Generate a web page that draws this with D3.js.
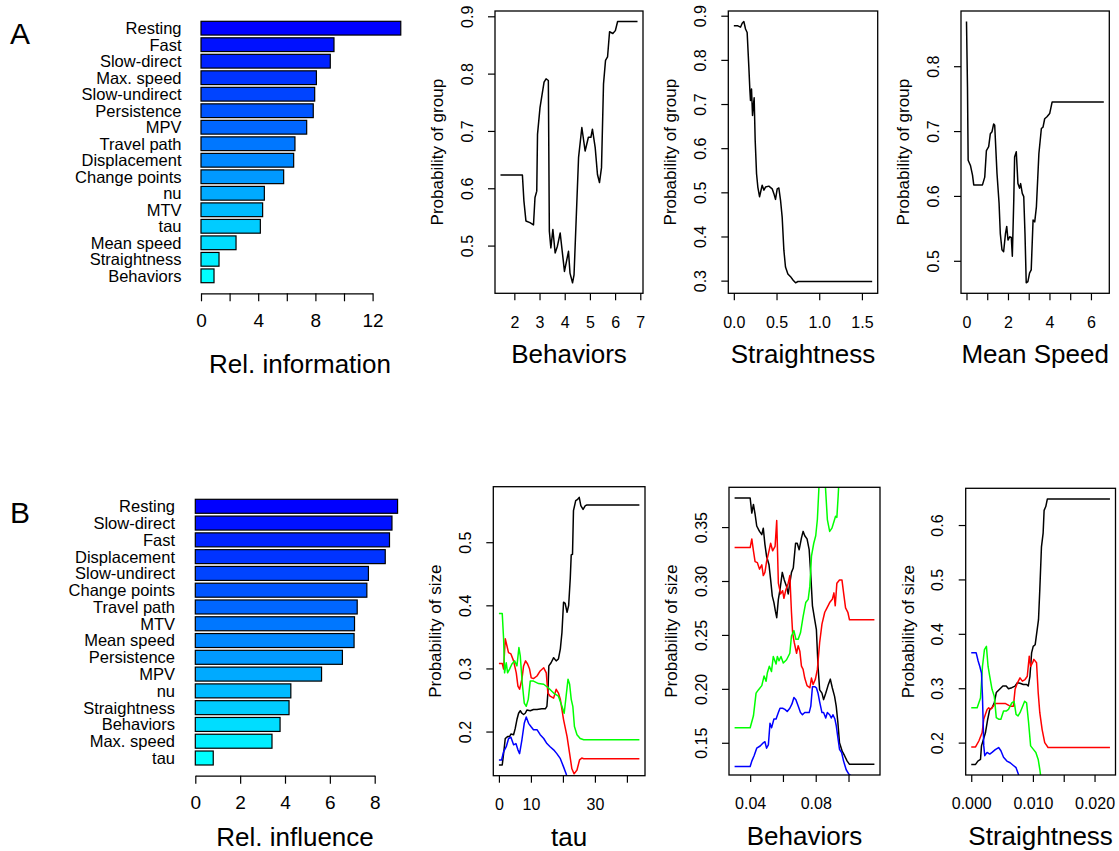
<!DOCTYPE html>
<html>
<head>
<meta charset="utf-8">
<script src="https://cdn.jsdelivr.net/npm/d3@7"></script>
<style>
  body { margin: 0; background: #fff; }
  svg { display: block; font-family: "Liberation Sans", Arial, sans-serif; }
</style>
</head>
<body>
<div id="chart"></div>
<script>
// Chart size
const width = 1119;
const height = 851;

// ---- Panel A: relative information (group) ----
const infoNames = ["Resting", "Fast", "Slow-direct", "Max. speed", "Slow-undirect", "Persistence",
    "MPV", "Travel path", "Displacement", "Change points", "nu", "MTV", "tau", "Mean speed",
    "Straightness", "Behaviors"];
const infoValues = [13.97, 9.30, 9.04, 8.07, 7.95, 7.85, 7.39, 6.57, 6.48, 5.78, 4.43, 4.31, 4.15, 2.45, 1.26, 0.91];
const infoTicks = [0, 2, 4, 6, 8, 10, 12];
const infoTickLabels = ["0", "", "4", "", "8", "", "12"];

// ---- Panel B: relative influence (size) ----
const inflNames = ["Resting", "Slow-direct", "Fast", "Displacement", "Slow-undirect", "Change points",
    "Travel path", "MTV", "Mean speed", "Persistence", "MPV", "nu", "Straightness", "Behaviors",
    "Max. speed", "tau"];
const inflValues = [9.02, 8.77, 8.66, 8.47, 7.72, 7.65, 7.22, 7.10, 7.08, 6.56, 5.63, 4.26, 4.18, 3.78, 3.42, 0.80];
const inflTicks = [0, 2, 4, 6, 8];
const inflTickLabels = ["0", "2", "4", "6", "8"];

// ---- Partial dependence, probability of group ----
const groupBehaviors = [[1.45,0.623],[2.32,0.623],[2.38,0.578],[2.46,0.543],[2.62,0.540],[2.76,0.536],
    [2.82,0.584],[2.89,0.595],[2.92,0.694],[3.02,0.741],[3.18,0.785],[3.26,0.791],[3.35,0.788],
    [3.39,0.525],[3.45,0.496],[3.53,0.528],[3.62,0.487],[3.71,0.499],[3.82,0.522],[3.99,0.455],
    [4.15,0.490],[4.21,0.452],[4.31,0.435],[4.37,0.449],[4.55,0.654],[4.68,0.706],[4.81,0.665],
    [4.94,0.689],[5.04,0.689],[5.10,0.703],[5.21,0.671],[5.30,0.624],[5.38,0.610],[5.46,0.636],
    [5.54,0.782],[5.62,0.823],[5.70,0.829],[5.78,0.873],[5.91,0.870],[6.01,0.875],[6.10,0.891],[6.89,0.891]];
const groupBehaviorsXTicks = [2, 3, 4, 5, 6, 7];
const groupBehaviorsXLabels = ["2", "3", "4", "5", "6", "7"];
const groupBehaviorsYTicks = [0.5, 0.6, 0.7, 0.8, 0.9];
const groupBehaviorsYLabels = ["0.5", "0.6", "0.7", "0.8", "0.9"];

const groupStraightness = [[0,0.877],[0.047,0.877],[0.078,0.874],[0.098,0.883],[0.117,0.887],[0.137,0.870],
    [0.156,0.862],[0.176,0.783],[0.188,0.731],[0.195,0.708],[0.207,0.734],[0.219,0.674],[0.227,0.693],
    [0.238,0.714],[0.250,0.618],[0.266,0.542],[0.281,0.512],[0.301,0.490],[0.332,0.516],[0.352,0.505],
    [0.371,0.512],[0.410,0.514],[0.449,0.508],[0.469,0.497],[0.488,0.484],[0.508,0.508],[0.527,0.510],
    [0.547,0.482],[0.566,0.444],[0.586,0.369],[0.605,0.331],[0.633,0.315],[0.664,0.309],[0.695,0.301],
    [0.723,0.295],[0.750,0.298],[1.62,0.298]];
const groupStraightnessXTicks = [0, 0.5, 1, 1.5];
const groupStraightnessXLabels = ["0.0", "0.5", "1.0", "1.5"];
const groupStraightnessYTicks = [0.3, 0.4, 0.5, 0.6, 0.7, 0.8, 0.9];
const groupStraightnessYLabels = ["0.3", "0.4", "0.5", "0.6", "0.7", "0.8", "0.9"];

const groupSpeed = [[0,0.869],[0.048,0.768],[0.08,0.655],[0.19,0.647],[0.29,0.632],[0.35,0.617],[0.77,0.617],
    [0.88,0.629],[0.96,0.670],[1.07,0.676],[1.15,0.696],[1.23,0.699],[1.31,0.711],[1.36,0.709],[1.47,0.635],
    [1.57,0.589],[1.63,0.542],[1.71,0.517],[1.79,0.514],[1.88,0.542],[1.94,0.553],[2.00,0.532],[2.08,0.537],
    [2.16,0.536],[2.21,0.507],[2.28,0.594],[2.32,0.660],[2.40,0.668],[2.48,0.619],[2.56,0.612],[2.61,0.619],
    [2.69,0.604],[2.76,0.599],[2.82,0.542],[2.88,0.466],[2.96,0.468],[3.04,0.481],[3.12,0.486],[3.21,0.563],
    [3.29,0.560],[3.37,0.583],[3.49,0.665],[3.61,0.704],[3.69,0.706],[3.77,0.719],[3.88,0.722],[4.01,0.727],
    [4.13,0.745],[6.62,0.745]];
const groupSpeedXTicks = [0, 1, 2, 3, 4, 5, 6];
const groupSpeedXLabels = ["0", "", "2", "", "4", "", "6"];
const groupSpeedYTicks = [0.5, 0.6, 0.7, 0.8];
const groupSpeedYLabels = ["0.5", "0.6", "0.7", "0.8"];

// ---- Partial dependence, probability of size (4 classes) ----
const tauBlack = [[0,0.147],[1.04,0.147],[1.46,0.165],[1.98,0.189],[2.71,0.192],[3.33,0.192],[3.75,0.196],
    [4.58,0.195],[5.10,0.205],[5.63,0.219],[6.15,0.229],[6.67,0.233],[7.19,0.229],[7.71,0.227],[8.23,0.229],
    [8.75,0.234],[9.79,0.233],[10.8,0.235],[11.9,0.235],[13.4,0.236],[14.5,0.236],[15.0,0.240],[15.3,0.261],
    [15.6,0.304],[16.3,0.309],[17.1,0.317],[17.9,0.312],[18.6,0.315],[19.2,0.331],[19.7,0.357],[20.2,0.405],
    [20.7,0.403],[21.3,0.389],[21.8,0.400],[22.3,0.443],[22.6,0.480],[23.0,0.481],[23.3,0.550],[24.0,0.566],
    [24.6,0.568],[25.1,0.571],[25.6,0.558],[26.3,0.552],[27.0,0.558],[27.5,0.559],[43.9,0.559]];
const tauRed = [[0,0.308],[1.04,0.308],[1.46,0.299],[1.98,0.347],[2.5,0.336],[3.0,0.325],[3.75,0.323],
    [4.58,0.312],[5.42,0.293],[5.94,0.272],[6.46,0.267],[7.19,0.283],[7.71,0.304],[8.33,0.312],[8.96,0.307],
    [9.58,0.299],[10.1,0.285],[10.8,0.284],[11.9,0.288],[12.9,0.296],[14.0,0.301],[14.8,0.293],[15.3,0.261],
    [16.0,0.256],[17.1,0.253],[17.9,0.267],[18.6,0.261],[19.2,0.251],[20.2,0.219],[21.3,0.192],[22.1,0.165],
    [22.8,0.141],[23.5,0.133],[24.4,0.139],[25.2,0.155],[25.9,0.158],[26.5,0.157],[43.9,0.157]];
const tauGreen = [[0,0.387],[1.04,0.387],[1.46,0.347],[1.77,0.293],[2.29,0.309],[2.71,0.293],[3.33,0.299],
    [4.06,0.307],[4.90,0.312],[5.63,0.304],[6.25,0.333],[6.67,0.320],[7.29,0.277],[7.92,0.245],[8.54,0.240],
    [9.17,0.251],[9.79,0.280],[10.8,0.280],[12.4,0.276],[14.0,0.275],[15.5,0.269],[17.1,0.261],[18.6,0.256],
    [19.7,0.240],[20.4,0.229],[21.0,0.256],[21.6,0.283],[22.1,0.275],[22.6,0.251],[23.1,0.240],[23.6,0.208],
    [24.4,0.195],[25.4,0.189],[26.5,0.187],[43.9,0.187]];
const tauBlue = [[0,0.155],[0.83,0.155],[1.46,0.168],[2.29,0.176],[3.02,0.189],[3.75,0.191],[4.58,0.179],
    [5.31,0.181],[5.94,0.171],[6.46,0.165],[7.19,0.187],[7.92,0.213],[8.54,0.223],[9.27,0.213],[10.0,0.208],
    [10.8,0.203],[11.9,0.203],[12.9,0.195],[14.0,0.189],[15.0,0.181],[16.0,0.176],[17.1,0.171],[18.1,0.165],
    [19.2,0.157],[20.2,0.144],[21.0,0.133],[21.8,0.120],[22.8,0.090],[43.9,0.090]];
const tauXTicks = [0, 10, 20, 30, 40];
const tauXLabels = ["0", "10", "", "30", ""];
const tauYTicks = [0.2, 0.3, 0.4, 0.5];
const tauYLabels = ["0.2", "0.3", "0.4", "0.5"];

const sizeBehBlack = [[0.0305,0.377],[0.040,0.377],[0.041,0.363],[0.042,0.371],[0.043,0.362],[0.044,0.351],
    [0.0457,0.346],[0.0471,0.343],[0.048,0.349],[0.049,0.334],[0.050,0.323],[0.0515,0.315],[0.0525,0.301],
    [0.0535,0.286],[0.0545,0.280],[0.0554,0.272],[0.0562,0.266],[0.0572,0.283],[0.0582,0.292],[0.0596,0.308],
    [0.0608,0.301],[0.0622,0.295],[0.0632,0.288],[0.0642,0.298],[0.0652,0.308],[0.0663,0.312],[0.0677,0.335],
    [0.0687,0.335],[0.0699,0.329],[0.0713,0.340],[0.0723,0.346],[0.0733,0.342],[0.0747,0.339],[0.0760,0.329],
    [0.0770,0.305],[0.078,0.277],[0.0794,0.264],[0.0804,0.255],[0.0814,0.221],[0.0824,0.199],[0.0838,0.196],
    [0.0848,0.190],[0.0861,0.196],[0.0875,0.203],[0.0889,0.209],[0.0901,0.201],[0.0915,0.193],[0.0925,0.184],
    [0.0935,0.169],[0.0945,0.150],[0.0962,0.142],[0.0976,0.138],[0.0992,0.133],[0.1006,0.130],[0.1158,0.130]];
const sizeBehRed = [[0.0305,0.331],[0.040,0.331],[0.041,0.339],[0.042,0.328],[0.043,0.318],[0.0444,0.317],
    [0.0457,0.311],[0.0471,0.315],[0.048,0.305],[0.049,0.308],[0.050,0.318],[0.0515,0.328],[0.0525,0.335],
    [0.0537,0.328],[0.0552,0.332],[0.0562,0.356],[0.0572,0.298],[0.0586,0.288],[0.0598,0.291],[0.0606,0.284],
    [0.0618,0.292],[0.0632,0.298],[0.0642,0.305],[0.0652,0.271],[0.0659,0.252],[0.0669,0.243],[0.0683,0.233],
    [0.0693,0.240],[0.0703,0.235],[0.0713,0.221],[0.0723,0.218],[0.0733,0.210],[0.0747,0.203],[0.0764,0.201],
    [0.0774,0.210],[0.0784,0.204],[0.0798,0.209],[0.0810,0.218],[0.0824,0.243],[0.0838,0.260],[0.0855,0.271],
    [0.0865,0.274],[0.0885,0.280],[0.0901,0.283],[0.0911,0.289],[0.0919,0.277],[0.0929,0.298],[0.0945,0.301],
    [0.0960,0.301],[0.0970,0.289],[0.0982,0.275],[0.0996,0.271],[0.1006,0.264],[0.1158,0.264]];
const sizeBehGreen = [[0.0305,0.164],[0.040,0.164],[0.042,0.175],[0.0436,0.196],[0.045,0.199],[0.0471,0.203],
    [0.0485,0.212],[0.0497,0.207],[0.0505,0.215],[0.0517,0.221],[0.053,0.216],[0.0541,0.230],[0.0558,0.223],
    [0.0566,0.230],[0.0576,0.226],[0.0588,0.230],[0.0602,0.224],[0.0622,0.227],[0.0642,0.233],[0.0652,0.249],
    [0.0667,0.254],[0.0679,0.246],[0.0693,0.246],[0.0707,0.252],[0.0723,0.267],[0.0739,0.280],[0.0754,0.283],
    [0.0764,0.295],[0.0774,0.323],[0.0788,0.335],[0.080,0.342],[0.081,0.357],[0.082,0.388],[0.0828,0.410],
    [0.0844,0.426],[0.0859,0.388],[0.0871,0.357],[0.0885,0.346],[0.0899,0.349],[0.0909,0.354],[0.0921,0.360],
    [0.0929,0.359],[0.0937,0.379],[0.0941,0.391],[0.0945,0.413],[0.0966,0.440],[0.1158,0.440]];
const sizeBehBlue = [[0.0305,0.128],[0.040,0.128],[0.041,0.133],[0.0424,0.138],[0.044,0.145],[0.0461,0.147],
    [0.048,0.150],[0.049,0.151],[0.050,0.145],[0.0511,0.148],[0.0521,0.168],[0.0531,0.164],[0.0545,0.172],
    [0.0558,0.172],[0.0572,0.178],[0.0582,0.182],[0.0598,0.182],[0.0612,0.181],[0.0626,0.179],[0.0642,0.182],
    [0.0655,0.186],[0.0667,0.192],[0.0679,0.190],[0.0693,0.184],[0.0707,0.178],[0.0719,0.176],[0.0733,0.178],
    [0.0747,0.178],[0.0760,0.178],[0.0770,0.184],[0.078,0.202],[0.0794,0.202],[0.0804,0.201],[0.0814,0.196],
    [0.0824,0.188],[0.0838,0.178],[0.0848,0.178],[0.0861,0.173],[0.0871,0.178],[0.0885,0.176],[0.0895,0.173],
    [0.0905,0.176],[0.0917,0.172],[0.0925,0.166],[0.0935,0.155],[0.0945,0.144],[0.0958,0.141],[0.0970,0.133],
    [0.0986,0.125],[0.1002,0.121],[0.1046,0.116],[0.1158,0.116]];
const sizeBehXTicks = [0.04, 0.06, 0.08, 0.10];
const sizeBehXLabels = ["0.04", "", "0.08", ""];
const sizeBehYTicks = [0.15, 0.20, 0.25, 0.30, 0.35];
const sizeBehYLabels = ["0.15", "0.20", "0.25", "0.30", "0.35"];

const sizeStrBlack = [[0,0.160],[0.0007,0.160],[0.00107,0.166],[0.0015,0.169],[0.00166,0.194],[0.0023,0.218],
    [0.00267,0.243],[0.003,0.261],[0.00337,0.264],[0.00374,0.273],[0.00406,0.292],[0.0046,0.298],[0.00513,0.304],
    [0.00567,0.304],[0.00604,0.299],[0.00658,0.301],[0.00711,0.304],[0.00749,0.310],[0.00791,0.309],
    [0.00845,0.307],[0.00898,0.307],[0.00925,0.304],[0.00952,0.322],[0.00979,0.365],[0.01005,0.377],
    [0.01037,0.380],[0.01070,0.408],[0.01091,0.426],[0.01112,0.481],[0.01139,0.560],[0.01166,0.585],
    [0.01182,0.627],[0.01209,0.634],[0.01235,0.648],[0.0225,0.648]];
const sizeStrRed = [[0,0.192],[0.0007,0.192],[0.00123,0.203],[0.00176,0.218],[0.00203,0.243],[0.0023,0.252],
    [0.00257,0.261],[0.00283,0.264],[0.0031,0.261],[0.00337,0.264],[0.0039,0.272],[0.0047,0.272],[0.0055,0.272],
    [0.00631,0.267],[0.00684,0.267],[0.00711,0.298],[0.00749,0.310],[0.00791,0.319],[0.00829,0.313],
    [0.00872,0.316],[0.00909,0.322],[0.00941,0.359],[0.00963,0.340],[0.00995,0.347],[0.01016,0.353],
    [0.01059,0.347],[0.01086,0.292],[0.01112,0.255],[0.0115,0.224],[0.01192,0.200],[0.01246,0.191],[0.0225,0.191]];
const sizeStrGreen = [[0,0.264],[0.00096,0.264],[0.0015,0.282],[0.00182,0.340],[0.00214,0.371],[0.00246,0.377],
    [0.00273,0.340],[0.003,0.322],[0.00337,0.298],[0.00374,0.285],[0.00406,0.246],[0.00444,0.243],[0.00481,0.243],
    [0.00524,0.258],[0.00567,0.258],[0.00604,0.261],[0.00658,0.273],[0.00695,0.276],[0.00727,0.252],
    [0.00759,0.249],[0.00791,0.255],[0.00834,0.267],[0.00866,0.276],[0.00898,0.273],[0.00930,0.237],
    [0.00963,0.194],[0.01005,0.188],[0.01048,0.182],[0.01086,0.169],[0.01112,0.151],[0.01139,0.127],
    [0.0119,0.096],[0.0225,0.096]];
const sizeStrBlue = [[0,0.365],[0.0008,0.365],[0.00112,0.350],[0.00139,0.340],[0.00166,0.328],[0.00182,0.285],
    [0.00203,0.194],[0.00219,0.176],[0.00257,0.182],[0.003,0.179],[0.00337,0.182],[0.0039,0.187],[0.00444,0.191],
    [0.00481,0.185],[0.00524,0.173],[0.00578,0.166],[0.00631,0.163],[0.00684,0.158],[0.00727,0.154],
    [0.00765,0.142],[0.00791,0.127],[0.0085,0.096],[0.0225,0.096]];
const sizeStrXTicks = [0, 0.005, 0.01, 0.015, 0.02];
const sizeStrXLabels = ["0.000", "", "0.010", "", "0.020"];
const sizeStrYTicks = [0.2, 0.3, 0.4, 0.5, 0.6];
const sizeStrYLabels = ["0.2", "0.3", "0.4", "0.5", "0.6"];

const classColors = ["#000000", "#ff0000", "#00ff00", "#0000ff"];

const svg = d3.select("#chart")
    .append("svg")
    .attr("width", width)
    .attr("height", height)
    .attr("viewBox", [0, 0, width, height]);

// Panel letters
svg.append("text").attr("x", 10).attr("y", 43.5).attr("font-size", 30).text("A");
svg.append("text").attr("x", 10).attr("y", 523).attr("font-size", 30).text("B");

// Horizontal bar chart, R barplot style
function drawBars(o) {
    const x = d3.scaleLinear()
        .domain([0, o.ticks[o.ticks.length - 1]])
        .range([o.x0, o.x1]);

    const y = d3.scaleBand()
        .domain(o.names)
        .range([o.top, o.bottom])
        .paddingInner(0.2 / 1.2)
        .paddingOuter(0);

    const color = d3.scaleLinear()
        .domain([0, o.names.length - 1])
        .range(["#0000ff", "#00ffff"]);

    const g = svg.append("g");

    g.selectAll("rect")
        .data(o.names)
        .join("rect")
        .attr("x", x(0))
        .attr("y", d => y(d))
        .attr("width", (d, i) => x(o.values[i]) - x(0))
        .attr("height", y.bandwidth())
        .attr("fill", (d, i) => color(i))
        .attr("stroke", "#000")
        .attr("stroke-width", 1.2);

    g.selectAll("text.name")
        .data(o.names)
        .join("text")
        .attr("class", "name")
        .attr("x", o.labelRight)
        .attr("y", d => y(d) + y.bandwidth() / 2)
        .attr("dy", "0.36em")
        .attr("text-anchor", "end")
        .attr("font-size", 16.5)
        .text(d => d);

    const axis = g.append("g")
        .attr("transform", `translate(0,${o.axisY})`)
        .call(d3.axisBottom(x)
            .tickValues(o.ticks)
            .tickSize(8)
            .tickSizeOuter(0)
            .tickPadding(12)
            .tickFormat((d, i) => o.tickLabels[i]));
    axis.select(".domain").attr("stroke", "#000").attr("stroke-width", 1.2);
    axis.selectAll(".tick line").attr("stroke", "#000").attr("stroke-width", 1.2);
    axis.selectAll(".tick text")
        .attr("fill", "#000")
        .attr("font-size", 19)
        .attr("font-family", "Liberation Sans, Arial, sans-serif");

    g.append("text")
        .attr("x", o.titleX)
        .attr("y", o.titleY)
        .attr("text-anchor", "middle")
        .attr("font-size", 26)
        .text(o.title);
}

drawBars({
    names: infoNames, values: infoValues, ticks: infoTicks, tickLabels: infoTickLabels,
    x0: 201, x1: 372.6, top: 21.3, bottom: 282.7, axisY: 293.3, labelRight: 181.5,
    title: "Rel. information", titleX: 300, titleY: 373
});

drawBars({
    names: inflNames, values: inflValues, ticks: inflTicks, tickLabels: inflTickLabels,
    x0: 195.3, x1: 374.7, top: 499.3, bottom: 765, axisY: 775.7, labelRight: 175,
    title: "Rel. influence", titleX: 295, titleY: 846
});

// R pads the data range by 4% on each side
function pad(ext) {
    const r = ext[1] - ext[0];
    return [ext[0] - 0.04 * r, ext[1] + 0.04 * r];
}

let clipId = 0;

// Partial dependence plot with box, rotated y labels
function drawPdp(p) {
    const main = p.series[0];
    const x = d3.scaleLinear()
        .domain(pad(d3.extent(main, d => d[0])))
        .range([p.left, p.right]);
    const y = d3.scaleLinear()
        .domain(pad(d3.extent(main, d => d[1])))
        .range([p.bottom, p.top]);

    const g = svg.append("g");
    const id = "clip" + (clipId++);
    g.append("clipPath").attr("id", id)
        .append("rect")
        .attr("x", p.left).attr("y", p.top)
        .attr("width", p.right - p.left).attr("height", p.bottom - p.top);

    const line = d3.line()
        .x(d => x(d[0]))
        .y(d => y(d[1]));

    g.append("g")
        .attr("clip-path", `url(#${id})`)
        .selectAll("path")
        .data(p.series)
        .join("path")
        .attr("fill", "none")
        .attr("stroke", (d, i) => classColors[i])
        .attr("stroke-width", 1.5)
        .attr("stroke-linejoin", "round")
        .attr("d", line);

    // x axis
    const xAxis = g.append("g")
        .attr("transform", `translate(0,${p.bottom})`)
        .call(d3.axisBottom(x)
            .tickValues(p.xTicks)
            .tickSize(7)
            .tickSizeOuter(0)
            .tickPadding(16)
            .tickFormat((d, i) => p.xLabels[i]));

    // y axis, labels parallel to the axis
    const yAxis = g.append("g")
        .attr("transform", `translate(${p.left},0)`)
        .call(d3.axisLeft(y)
            .tickValues(p.yTicks)
            .tickSize(7)
            .tickSizeOuter(0)
            .tickFormat((d, i) => p.yLabels[i]));
    yAxis.selectAll(".tick text")
        .attr("x", null)
        .attr("dy", "0.36em")
        .attr("text-anchor", "middle")
        .attr("transform", "translate(-28,0) rotate(-90)");

    [xAxis, yAxis].forEach(axis => {
        axis.select(".domain").remove();
        axis.selectAll(".tick line").attr("stroke", "#000").attr("stroke-width", 1.2);
        axis.selectAll(".tick text")
            .attr("fill", "#000")
            .attr("font-size", 16)
            .attr("font-family", "Liberation Sans, Arial, sans-serif");
    });

    // box
    g.append("rect")
        .attr("x", p.left).attr("y", p.top)
        .attr("width", p.right - p.left).attr("height", p.bottom - p.top)
        .attr("fill", "none")
        .attr("stroke", "#000")
        .attr("stroke-width", 1.3);

    g.append("text")
        .attr("transform", `translate(${p.left - 58},${(p.top + p.bottom) / 2}) rotate(-90)`)
        .attr("dy", "0.36em")
        .attr("text-anchor", "middle")
        .attr("font-size", 17)
        .text(p.ylab);

    g.append("text")
        .attr("x", (p.left + p.right) / 2)
        .attr("y", p.bottom + 70)
        .attr("text-anchor", "middle")
        .attr("font-size", 26)
        .text(p.xlab);
}

drawPdp({
    series: [groupBehaviors], xTicks: groupBehaviorsXTicks, xLabels: groupBehaviorsXLabels,
    yTicks: groupBehaviorsYTicks, yLabels: groupBehaviorsYLabels,
    left: 495, right: 643, top: 11, bottom: 293.3, xlab: "Behaviors", ylab: "Probability of group"
});
drawPdp({
    series: [groupStraightness], xTicks: groupStraightnessXTicks, xLabels: groupStraightnessXLabels,
    yTicks: groupStraightnessYTicks, yLabels: groupStraightnessYLabels,
    left: 728.3, right: 877.7, top: 11, bottom: 293.3, xlab: "Straightness", ylab: "Probability of group"
});
drawPdp({
    series: [groupSpeed], xTicks: groupSpeedXTicks, xLabels: groupSpeedXLabels,
    yTicks: groupSpeedYTicks, yLabels: groupSpeedYLabels,
    left: 961, right: 1109.3, top: 11, bottom: 293.3, xlab: "Mean Speed", ylab: "Probability of group"
});
drawPdp({
    series: [tauBlack, tauRed, tauGreen, tauBlue], xTicks: tauXTicks, xLabels: tauXLabels,
    yTicks: tauYTicks, yLabels: tauYLabels,
    left: 493.3, right: 645, top: 486.7, bottom: 775.7, xlab: "tau", ylab: "Probability of size"
});
drawPdp({
    series: [sizeBehBlack, sizeBehRed, sizeBehGreen, sizeBehBlue], xTicks: sizeBehXTicks, xLabels: sizeBehXLabels,
    yTicks: sizeBehYTicks, yLabels: sizeBehYLabels,
    left: 729, right: 880, top: 487.3, bottom: 775, xlab: "Behaviors", ylab: "Probability of size"
});
drawPdp({
    series: [sizeStrBlack, sizeStrRed, sizeStrGreen, sizeStrBlue], xTicks: sizeStrXTicks, xLabels: sizeStrXLabels,
    yTicks: sizeStrYTicks, yLabels: sizeStrYLabels,
    left: 965.7, right: 1115.5, top: 488.3, bottom: 775, xlab: "Straightness", ylab: "Probability of size"
});
</script>
</body>
</html>
